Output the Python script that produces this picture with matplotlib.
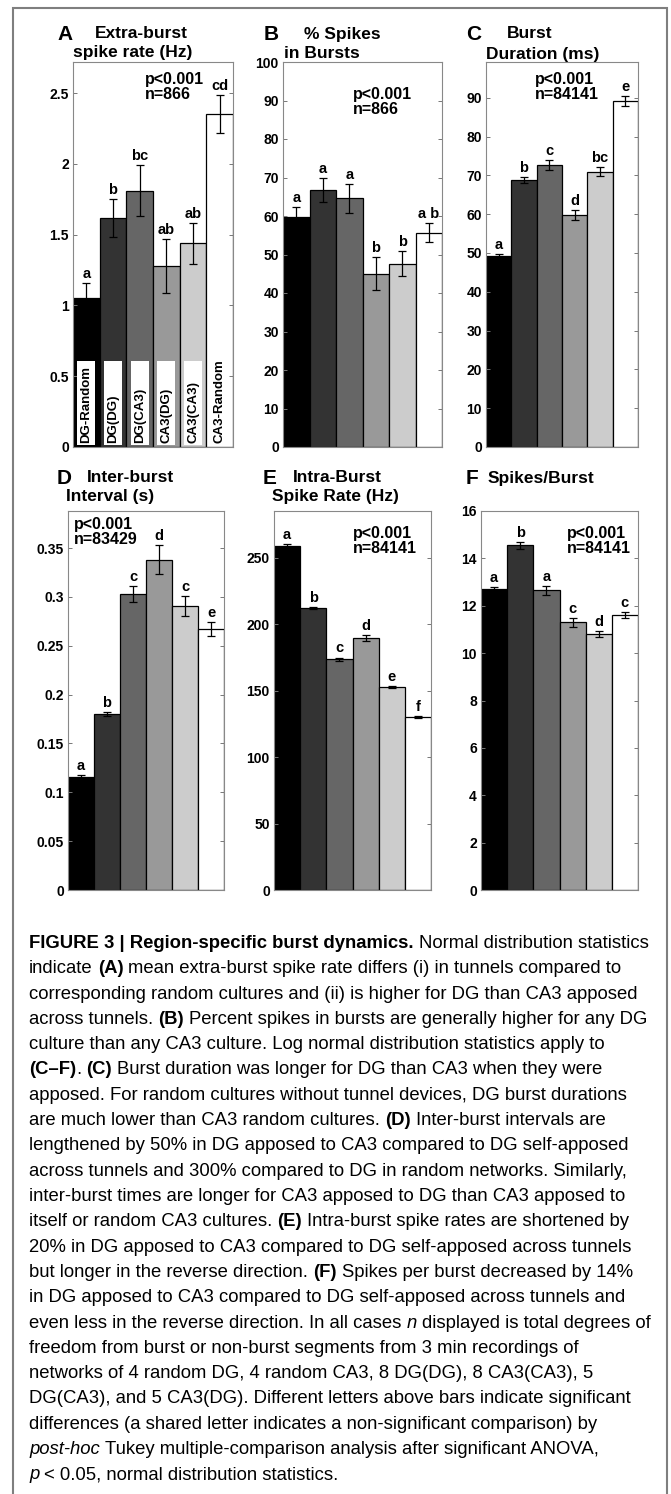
import matplotlib
matplotlib.use("Agg")
import matplotlib.pyplot as plt
from matplotlib.patches import Rectangle
from matplotlib import font_manager

W, H = 671, 1494

groups = ["DG-Random", "DG(DG)", "DG(CA3)", "CA3(DG)", "CA3(CA3)", "CA3-Random"]
bar_colors = ["#000000", "#333333", "#666666", "#999999", "#cccccc", "#ffffff"]

# A: extra-burst spike rate (Hz)
extra_rate = [1.05, 1.62, 1.81, 1.28, 1.44, 2.35]
extra_rate_err = [0.11, 0.135, 0.18, 0.19, 0.145, 0.135]
extra_rate_sig = ["a", "b", "bc", "ab", "ab", "cd"]
extra_rate_ticks = [0, 0.5, 1, 1.5, 2, 2.5]

# B: % spikes in bursts
pct_bursts = [59.8, 66.7, 64.6, 45.0, 47.6, 55.7]
pct_bursts_err = [2.6, 3.1, 3.8, 4.3, 3.3, 2.4]
pct_bursts_sig = ["a", "a", "a", "b", "b", "a b"]
pct_bursts_ticks = [0, 10, 20, 30, 40, 50, 60, 70, 80, 90, 100]

# C: burst duration (ms)
burst_dur = [49.3, 68.8, 72.7, 59.8, 70.9, 89.2]
burst_dur_err = [0.5, 0.8, 1.2, 1.3, 1.2, 1.3]
burst_dur_sig = ["a", "b", "c", "d", "bc", "e"]
burst_dur_ticks = [0, 10, 20, 30, 40, 50, 60, 70, 80, 90]

# D: inter-burst interval (s)
ibi = [0.116, 0.180, 0.303, 0.338, 0.291, 0.267]
ibi_err = [0.002, 0.002, 0.008, 0.015, 0.010, 0.007]
ibi_sig = ["a", "b", "c", "d", "c", "e"]
ibi_ticks = [0, 0.05, 0.1, 0.15, 0.2, 0.25, 0.3, 0.35]

# E: intra-burst spike rate (Hz)
intra_rate = [258.5, 211.8, 173.6, 189.6, 152.6, 130.0]
intra_rate_err = [1.5, 0.8, 1.2, 2.2, 1.0, 0.5]
intra_rate_sig = ["a", "b", "c", "d", "e", "f"]
intra_rate_ticks = [0, 50, 100, 150, 200, 250]

# F: spikes per burst
spb = [12.7, 14.55, 12.65, 11.3, 10.8, 11.6]
spb_err = [0.1, 0.15, 0.2, 0.2, 0.13, 0.12]
spb_sig = ["a", "b", "a", "c", "d", "c"]
spb_ticks = [0, 2, 4, 6, 8, 10, 12, 14, 16]

plt.rcParams["font.family"] = ["Liberation Sans", "DejaVu Sans"]
plt.rcParams["font.weight"] = "bold"

fig = plt.figure(figsize=(W / 100, H / 100), dpi=100)

# outer frame
fig.add_artist(Rectangle((13 / W, -0.01), 654 / W, 1 - 8 / H + 0.01, transform=fig.transFigure,
                         fill=False, edgecolor="#7f7f7f", linewidth=1.5))


def px_axes(left, top, right, bottom):
    return fig.add_axes([left / W, 1 - bottom / H, (right - left) / W, (bottom - top) / H])


def ftext(x, y, s, **kw):
    return fig.text(x / W, 1 - y / H, s, va="center", **kw)


def panel(ax, vals, errs, sig, ticks, ymax, stats, stats_pos):
    x = list(range(1, len(vals) + 1))
    ax.bar(x, vals, width=1.0, color=bar_colors, edgecolor="black", linewidth=0.9,
           yerr=errs, capsize=3, error_kw=dict(elinewidth=0.9, capthick=0.9, ecolor="black"))
    for xi, v, e, s in zip(x, vals, errs, sig):
        ax.annotate(s, (xi, v + e), xytext=(0, 1.5), textcoords="offset points",
                    ha="center", va="bottom", fontsize=10.5, fontweight="bold")
    ax.set_xlim(0.5, len(vals) + 0.5)
    ax.set_ylim(0, ymax)
    ax.set_xticks([])
    ax.set_yticks(ticks)
    ax.set_yticklabels(["%g" % t for t in ticks])
    ax.tick_params(axis="y", direction="in", right=True, length=3, width=0.7,
                   color="#777777", labelsize=10, pad=3)
    for sp in ax.spines.values():
        sp.set_color("#888888")
        sp.set_linewidth(0.8)
    ax.text(stats_pos[0], stats_pos[1], stats, transform=ax.transAxes, ha="left", va="top",
            fontsize=11.5, fontweight="bold", linespacing=1.0)


axA = px_axes(73, 62, 233, 447)
panel(axA, extra_rate, extra_rate_err, extra_rate_sig, extra_rate_ticks, 2.72,
      "p<0.001\nn=866", (0.45, 0.975))
# group labels inside bars of panel A
for i, g in enumerate(groups):
    xi = i + 1
    if bar_colors[i] != "#ffffff":
        axA.add_patch(Rectangle((xi - 0.34, 0.015), 0.68, 0.59, facecolor="white",
                                edgecolor="none", zorder=3))
    axA.text(xi, 0.03, g, rotation=90, ha="center", va="bottom", fontsize=9.5,
             fontweight="bold", zorder=4)

axB = px_axes(283, 62, 442, 447)
panel(axB, pct_bursts, pct_bursts_err, pct_bursts_sig, pct_bursts_ticks, 100,
      "p<0.001\nn=866", (0.44, 0.935))

axC = px_axes(486, 62, 638, 447)
panel(axC, burst_dur, burst_dur_err, burst_dur_sig, burst_dur_ticks, 99.2,
      "p<0.001\nn=84141", (0.32, 0.975))

axD = px_axes(68, 511, 224, 890)
panel(axD, ibi, ibi_err, ibi_sig, ibi_ticks, 0.388,
      "p<0.001\nn=83429", (0.04, 0.985))

axE = px_axes(274, 511, 431, 890)
panel(axE, intra_rate, intra_rate_err, intra_rate_sig, intra_rate_ticks, 285,
      "p<0.001\nn=84141", (0.50, 0.96))

axF = px_axes(481, 511, 638, 890)
panel(axF, spb, spb_err, spb_sig, spb_ticks, 16,
      "p<0.001\nn=84141", (0.55, 0.96))

# panel titles
title_kw = dict(fontsize=12.5, fontweight="bold")
letter_kw = dict(fontsize=15, fontweight="bold")
ftext(57, 35, "A", **letter_kw)
ftext(95, 34, "Extra-burst", **title_kw)
ftext(73, 53, "spike rate (Hz)", **title_kw)
ftext(264, 35, "B", **letter_kw)
ftext(304, 34, "% Spikes", **title_kw)
ftext(284, 53, "in Bursts", **title_kw)
ftext(466, 35, "C", **letter_kw)
ftext(507, 34, "Burst", **title_kw)
ftext(486, 55, "Duration (ms)", **title_kw)
ftext(57, 479, "D", **letter_kw)
ftext(87, 478, "Inter-burst", **title_kw)
ftext(66, 497, "Interval (s)", **title_kw)
ftext(263, 479, "E", **letter_kw)
ftext(293, 478, "Intra-Burst", **title_kw)
ftext(272, 497, "Spike Rate (Hz)", **title_kw)
ftext(466, 479, "F", **letter_kw)
ftext(488, 478, "Spikes/Burst", **title_kw)

# caption, laid out segment by segment (n = normal, b = bold, i = italic)
caption = [
    [("FIGURE 3 | Region-specific burst dynamics.", "b"), (" Normal distribution statistics", "n")],
    [("indicate ", "n"), ("(A)", "b"), (" mean extra-burst spike rate differs (i) in tunnels compared to", "n")],
    [("corresponding random cultures and (ii) is higher for DG than CA3 apposed", "n")],
    [("across tunnels. ", "n"), ("(B)", "b"), (" Percent spikes in bursts are generally higher for any DG", "n")],
    [("culture than any CA3 culture. Log normal distribution statistics apply to", "n")],
    [("(C\u2013F)", "b"), (".", "n"), (" (C)", "b"), (" Burst duration was longer for DG than CA3 when they were", "n")],
    [("apposed. For random cultures without tunnel devices, DG burst durations", "n")],
    [("are much lower than CA3 random cultures. ", "n"), ("(D)", "b"), (" Inter-burst intervals are", "n")],
    [("lengthened by 50% in DG apposed to CA3 compared to DG self-apposed", "n")],
    [("across tunnels and 300% compared to DG in random networks. Similarly,", "n")],
    [("inter-burst times are longer for CA3 apposed to DG than CA3 apposed to", "n")],
    [("itself or random CA3 cultures. ", "n"), ("(E)", "b"), (" Intra-burst spike rates are shortened by", "n")],
    [("20% in DG apposed to CA3 compared to DG self-apposed across tunnels", "n")],
    [("but longer in the reverse direction. ", "n"), ("(F)", "b"), (" Spikes per burst decreased by 14%", "n")],
    [("in DG apposed to CA3 compared to DG self-apposed across tunnels and", "n")],
    [("even less in the reverse direction. In all cases ", "n"), ("n", "i"), (" displayed is total degrees of", "n")],
    [("freedom from burst or non-burst segments from 3 min recordings of", "n")],
    [("networks of 4 random DG, 4 random CA3, 8 DG(DG), 8 CA3(CA3), 5", "n")],
    [("DG(CA3), and 5 CA3(DG). Different letters above bars indicate significant", "n")],
    [("differences (a shared letter indicates a non-significant comparison) by", "n")],
    [("post-hoc", "i"), (" Tukey multiple-comparison analysis after significant ANOVA,", "n")],
    [("p", "i"), (" < 0.05, normal distribution statistics.", "n")],
]

names = {f.name for f in font_manager.fontManager.ttflist}
cap_family = "Liberation Sans Narrow" if "Liberation Sans Narrow" in names else "Liberation Sans"
renderer = fig.canvas.get_renderer()


def seg_kw(st, size):
    return dict(family=[cap_family, "DejaVu Sans"], fontsize=size,
                fontweight="bold" if st == "b" else "normal",
                fontstyle="italic" if st == "i" else "normal")


def width_of(s, kw):
    t = fig.text(0, 0, s, **kw)
    w = t.get_window_extent(renderer).width
    t.remove()
    return w


def layout_line(segs, x, y, size, draw):
    for s, st in segs:
        kw = seg_kw(st, size)
        sp = width_of("x x", kw) - width_of("xx", kw)
        core = s.strip(" ")
        x += (len(s) - len(s.lstrip(" "))) * sp
        if draw:
            t = fig.text(x / W, 1 - y / H, core, va="baseline", ha="left", **kw)
            w = t.get_window_extent(renderer).width
        else:
            w = width_of(core, kw)
        x += w + (len(s) - len(s.rstrip(" "))) * sp
    return x


# fit the font size so the first line spans the same width as the reference
x0 = 29
w10 = layout_line(caption[0], x0, 0, 10, False) - x0
cap_size = 10 * 623 / w10

for k, segs in enumerate(caption):
    layout_line(segs, x0, 948 + k * 25.3, cap_size, True)

fig.savefig("out.png", dpi=100)
